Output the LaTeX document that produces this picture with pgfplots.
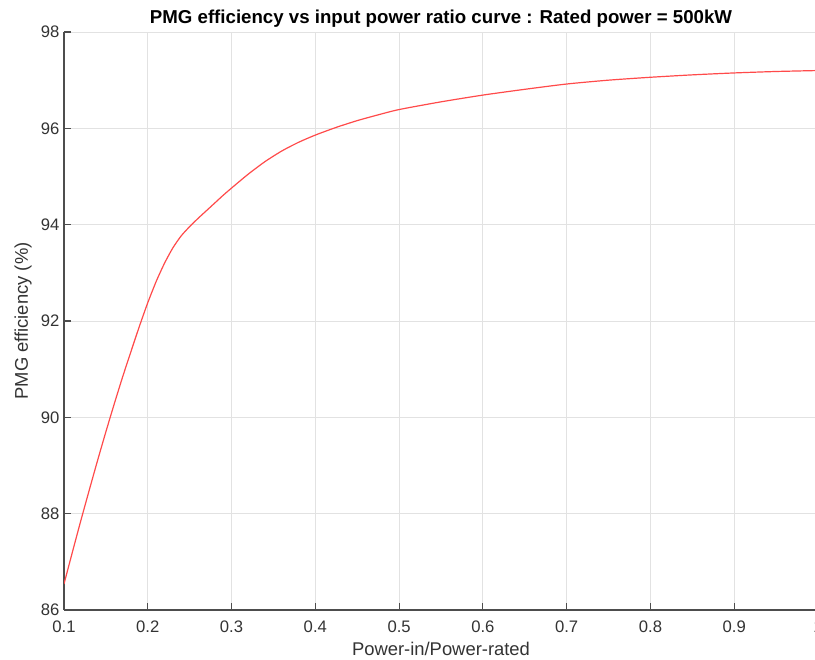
\documentclass[border=0pt]{standalone}
\usepackage{pgfplots}
\pgfplotsset{compat=1.18}
\usepackage{fontspec}
\setmainfont{Liberation Sans}
\definecolor{axgray}{HTML}{4D4D4D}
\definecolor{labgray}{HTML}{333333}
\definecolor{gridgray}{HTML}{E2E2E2}
\definecolor{curvered}{HTML}{FF4A4A}

\pgfplotstableread{
x     eff
0.100 86.54
0.110 87.20
0.120 87.85
0.130 88.48
0.140 89.10
0.150 89.70
0.160 90.28
0.170 90.84
0.180 91.37
0.190 91.89
0.200 92.38
0.210 92.82
0.220 93.20
0.230 93.52
0.240 93.77
0.250 93.96
0.260 94.13
0.270 94.29
0.280 94.45
0.290 94.61
0.300 94.76
0.320 95.05
0.340 95.31
0.360 95.53
0.380 95.71
0.400 95.86
0.425 96.02
0.450 96.16
0.475 96.28
0.500 96.39
0.550 96.55
0.600 96.69
0.650 96.81
0.700 96.92
0.750 97.00
0.800 97.06
0.850 97.11
0.900 97.15
0.950 97.18
1.000 97.20
}\effdata

\begin{document}
\begin{tikzpicture}
\begin{axis}[
  at={(0,0)}, anchor=south west,
  scale only axis, width=565.5pt, height=433.5pt,
  xmin=0.1, xmax=1, ymin=86, ymax=98,
  xtick={0.1,0.2,0.3,0.4,0.5,0.6,0.7,0.8,0.9,1},
  xticklabels={0.1,0.2,0.3,0.4,0.5,0.6,0.7,0.8,0.9,1},
  ytick={86,88,90,92,94,96,98},
  axis x line*=bottom, axis y line*=left,
  axis line style={axgray, line width=0.8pt, -},
  tick align=inside, major tick length=5pt,
  tick style={axgray, line width=0.8pt},
  grid=major, grid style={gridgray, line width=0.7pt},
  ticklabel style={font=\fontsize{12.5}{14}\selectfont, text=labgray},
  xticklabel style={yshift=-4.5pt},
  /pgf/number format/assume math mode=true,
  title={\bfseries PMG efficiency vs input power ratio curve : Rated power = 500kW},
  title style={at={(axis description cs:0.5,1)}, anchor=base, yshift=0.5pt,
    font=\fontsize{14}{16}\selectfont},
  xlabel={Power-in/Power-rated},
  xlabel style={at={([yshift=-34pt]axis description cs:0.5,0)}, anchor=base,
    font=\fontsize{13.8}{16}\selectfont, text=labgray},
  ylabel={PMG efficiency (\%)},
  ylabel style={at={([xshift=-27pt]axis description cs:0,0.5)}, anchor=base,
    rotate=0, font=\fontsize{13.8}{16}\selectfont, text=labgray},
]
\addplot[curvered, line width=0.9pt, no marks, smooth, tension=0.4] table[x=x, y=eff] {\effdata};
\end{axis}
\pgfresetboundingbox
\useasboundingbox (-48pt,-37.5pt) rectangle (563.25pt,457.5pt);
\end{tikzpicture}
\end{document}
